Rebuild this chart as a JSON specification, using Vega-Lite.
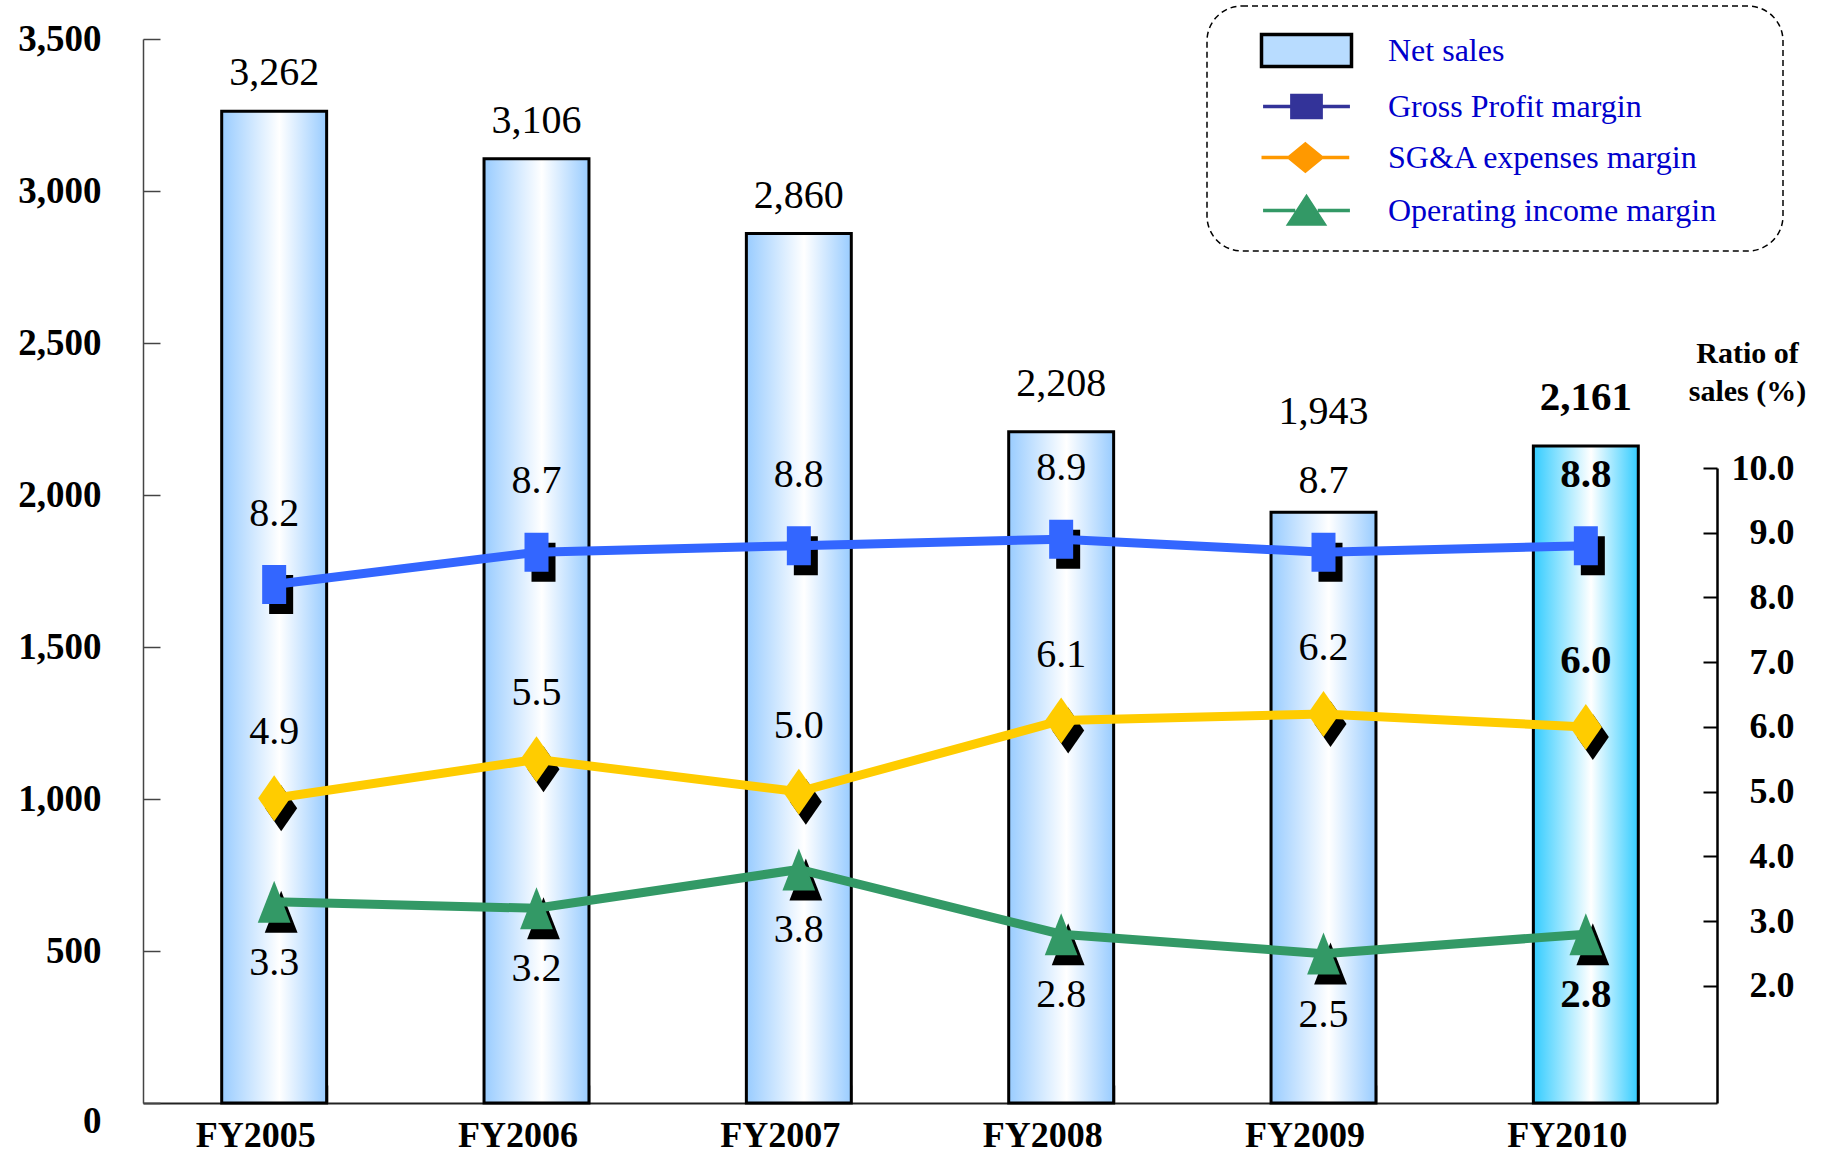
{
  "$schema": "https://vega.github.io/schema/vega-lite/v6.json",
  "width": 1574,
  "height": 1064,
  "autosize": "none",
  "padding": {"left": 143, "top": 39, "right": 108, "bottom": 50},
  "background": "white",
  "config": {
    "view": {"stroke": null},
    "font": "Liberation Serif",
    "legend": {"strokeDash": [6, 4], "strokeWidth": 1.5}
  },
  "datasets": {
    "sales": [
      {"year": "FY2005", "sales": 3262},
      {"year": "FY2006", "sales": 3106},
      {"year": "FY2007", "sales": 2860},
      {"year": "FY2008", "sales": 2208},
      {"year": "FY2009", "sales": 1943},
      {"year": "FY2010", "sales": 2161}
    ],
    "margins": [
      {"year": "FY2005", "series": "Gross Profit margin", "value": 8.2},
      {"year": "FY2006", "series": "Gross Profit margin", "value": 8.7},
      {"year": "FY2007", "series": "Gross Profit margin", "value": 8.8},
      {"year": "FY2008", "series": "Gross Profit margin", "value": 8.9},
      {"year": "FY2009", "series": "Gross Profit margin", "value": 8.7},
      {"year": "FY2010", "series": "Gross Profit margin", "value": 8.8},
      {"year": "FY2005", "series": "SG&A expenses margin", "value": 4.9},
      {"year": "FY2006", "series": "SG&A expenses margin", "value": 5.5},
      {"year": "FY2007", "series": "SG&A expenses margin", "value": 5.0},
      {"year": "FY2008", "series": "SG&A expenses margin", "value": 6.1},
      {"year": "FY2009", "series": "SG&A expenses margin", "value": 6.2},
      {"year": "FY2010", "series": "SG&A expenses margin", "value": 6.0},
      {"year": "FY2005", "series": "Operating income margin", "value": 3.3},
      {"year": "FY2006", "series": "Operating income margin", "value": 3.2},
      {"year": "FY2007", "series": "Operating income margin", "value": 3.8},
      {"year": "FY2008", "series": "Operating income margin", "value": 2.8},
      {"year": "FY2009", "series": "Operating income margin", "value": 2.5},
      {"year": "FY2010", "series": "Operating income margin", "value": 2.8}
    ]
  },
  "layer": [
    {
      "data": {"name": "sales"},
      "encoding": {
        "x": {
          "field": "year", "type": "nominal", "title": null,
          "scale": {"paddingInner": 0.6, "paddingOuter": 0.3},
          "axis": {
            "orient": "bottom", "tickBand": "extent", "tickSize": -18, "tickColor": "#333333", "tickWidth": 1.5,
            "domainColor": "#222222", "domainWidth": 2,
            "labelFont": "Liberation Serif", "labelFontSize": 36, "labelFontWeight": "bold", "labelColor": "black",
            "labelAngle": 0, "labelPadding": 50, "labelBaseline": "middle", "labelOffset": -19, "grid": false
          }
        },
        "y": {
          "field": "sales", "type": "quantitative", "title": null,
          "scale": {"domain": [0, 3500], "nice": false},
          "axis": {
            "orient": "left", "values": [0, 500, 1000, 1500, 2000, 2500, 3000, 3500], "format": ",.0f",
            "tickSize": -17, "tickColor": "#444444", "tickWidth": 1.5, "domainColor": "#444444", "domainWidth": 1.5,
            "labelFont": "Liberation Serif", "labelFontSize": 37, "labelFontWeight": "bold", "labelColor": "black",
            "labelAlign": "right", "labelPadding": 59, "labelFlush": false, "labelOverlap": false,
            "labelBaseline": {"condition": {"test": "datum.value === 0", "value": "top"}, "value": "middle"},
            "grid": false
          }
        }
      },
      "layer": [
        {
          "transform": [{"filter": "datum.year !== 'FY2010'"}],
          "mark": {
            "type": "bar", "stroke": "black", "strokeWidth": 3,
            "fill": {"gradient": "linear", "x1": 0, "y1": 0, "x2": 1, "y2": 0,
              "stops": [{"offset": 0, "color": "#99CCFF"}, {"offset": 0.55, "color": "#FFFFFF"}, {"offset": 1, "color": "#99CCFF"}]}
          }
        },
        {
          "transform": [{"filter": "datum.year === 'FY2010'"}],
          "mark": {
            "type": "bar", "stroke": "black", "strokeWidth": 3,
            "fill": {"gradient": "linear", "x1": 0, "y1": 0, "x2": 1, "y2": 0,
              "stops": [{"offset": 0, "color": "#33CCFF"}, {"offset": 0.55, "color": "#FFFFFF"}, {"offset": 1, "color": "#33CCFF"}]}
          }
        },
        {
          "transform": [{"filter": "indexof(['FY2005', 'FY2006', 'FY2007'], datum.year) >= 0"}],
          "mark": {"type": "text", "fontSize": 40, "baseline": "middle", "dy": -38, "color": "black"},
          "encoding": {"text": {"field": "sales", "format": ","}}
        },
        {
          "transform": [{"filter": "datum.year === 'FY2008'"}],
          "mark": {"type": "text", "fontSize": 40, "baseline": "middle", "dy": -48, "color": "black"},
          "encoding": {"text": {"field": "sales", "format": ","}}
        },
        {
          "transform": [{"filter": "datum.year === 'FY2009'"}],
          "mark": {"type": "text", "fontSize": 40, "baseline": "middle", "dy": -100, "color": "black"},
          "encoding": {"text": {"field": "sales", "format": ","}}
        },
        {
          "transform": [{"filter": "datum.year === 'FY2010'"}],
          "mark": {"type": "text", "fontSize": 41, "fontWeight": "bold", "baseline": "middle", "dy": -48, "color": "black"},
          "encoding": {"text": {"field": "sales", "format": ","}}
        }
      ]
    },
    {
      "data": {"name": "margins"},
      "encoding": {
        "x": {"field": "year", "type": "nominal", "title": null},
        "y": {
          "field": "value", "type": "quantitative", "title": ["Ratio of", "sales (%)"],
          "scale": {"domain": [0.193, 10], "range": [1064, 429], "zero": false, "nice": false},
          "axis": {
            "orient": "right", "values": [2, 3, 4, 5, 6, 7, 8, 9, 10], "format": ".1f",
            "tickSize": -14, "tickColor": "black", "tickWidth": 2, "domainColor": "black", "domainWidth": 2.5,
            "labelFont": "Liberation Serif", "labelFontSize": 36, "labelFontWeight": "bold", "labelColor": "black",
            "labelAlign": "right", "labelBaseline": "middle", "labelPadding": 91, "labelFlush": false, "labelOverlap": false,
            "grid": false,
            "titleAngle": 0, "titleX": 30, "titleY": 323, "titleAlign": "center", "titleBaseline": "alphabetic",
            "titleFont": "Liberation Serif", "titleFontSize": 30, "titleFontWeight": "bold", "titleColor": "black", "titleLineHeight": 38
          }
        }
      },
      "layer": [
        {
          "transform": [{"filter": "datum.series === 'Gross Profit margin'"}],
          "mark": {"type": "point", "filled": true, "opacity": 1, "size": 1600, "xOffset": 7, "yOffset": 10, "color": "black",
            "shape": "M-0.6,-0.975H0.6V0.975H-0.6Z"}
        },
        {
          "transform": [{"filter": "datum.series === 'SG&A expenses margin'"}],
          "mark": {"type": "point", "filled": true, "opacity": 1, "size": 1600, "xOffset": 7, "yOffset": 10, "color": "black",
            "shape": "M0,-1.15L0.8,0L0,1.15L-0.8,0Z"}
        },
        {
          "transform": [{"filter": "datum.series === 'Operating income margin'"}],
          "mark": {"type": "point", "filled": true, "opacity": 1, "size": 1600, "xOffset": 7, "yOffset": 10, "color": "black",
            "shape": "M0,-1.05L0.82,1.05H-0.82Z"}
        },
        {
          "mark": {"type": "line", "strokeWidth": 9},
          "encoding": {
            "color": {
              "field": "series", "type": "nominal", "legend": null,
              "scale": {
                "domain": ["Gross Profit margin", "SG&A expenses margin", "Operating income margin"],
                "range": ["#3366FF", "#FFCC00", "#339966"]
              }
            }
          }
        },
        {
          "transform": [{"filter": "datum.series === 'Gross Profit margin'"}],
          "mark": {"type": "point", "filled": true, "opacity": 1, "size": 1600, "color": "#3366FF",
            "shape": "M-0.6,-0.975H0.6V0.975H-0.6Z"}
        },
        {
          "transform": [{"filter": "datum.series === 'SG&A expenses margin'"}],
          "mark": {"type": "point", "filled": true, "opacity": 1, "size": 1600, "color": "#FFCC00",
            "shape": "M0,-1.15L0.8,0L0,1.15L-0.8,0Z"}
        },
        {
          "transform": [{"filter": "datum.series === 'Operating income margin'"}],
          "mark": {"type": "point", "filled": true, "opacity": 1, "size": 1600, "color": "#339966",
            "shape": "M0,-1.05L0.82,1.05H-0.82Z"}
        },
        {
          "mark": {"type": "point", "size": 0, "strokeWidth": 3.5},
          "encoding": {
            "fill": {
              "field": "series", "type": "nominal",
              "scale": {
                "domain": ["Net sales", "Gross Profit margin", "SG&A expenses margin", "Operating income margin"],
                "range": ["#B8DCFF", "#333399", "#FF9900", "#339966"]
              },
              "legend": {
                "orient": "none", "legendX": 1064, "legendY": -33, "title": null,
                "padding": 20, "strokeColor": "black", "cornerRadius": 35, "fillColor": "white",
                "symbolSize": 2025, "symbolOffset": 55, "labelOffset": 57, "rowPadding": 8,
                "symbolStrokeWidth": 3.5, "symbolOpacity": 1,
                "labelFont": "Liberation Serif", "labelFontSize": 32, "labelColor": "#0000CC", "labelLimit": 0,
                "labelExpr": "datum.label + '\u2800\u2800'"
              }
            },
            "stroke": {
              "field": "series", "type": "nominal",
              "scale": {
                "domain": ["Net sales", "Gross Profit margin", "SG&A expenses margin", "Operating income margin"],
                "range": ["#000000", "#333399", "#FF9900", "#339966"]
              },
              "legend": {
                "orient": "none", "legendX": 1064, "legendY": -33, "title": null,
                "padding": 20, "strokeColor": "black", "cornerRadius": 35, "fillColor": "white",
                "symbolSize": 2025, "symbolOffset": 55, "labelOffset": 57, "rowPadding": 8,
                "symbolStrokeWidth": 3.5, "symbolOpacity": 1,
                "labelFont": "Liberation Serif", "labelFontSize": 32, "labelColor": "#0000CC", "labelLimit": 0,
                "labelExpr": "datum.label + '\u2800\u2800'"
              }
            },
            "shape": {
              "field": "series", "type": "nominal",
              "scale": {
                "domain": ["Net sales", "Gross Profit margin", "SG&A expenses margin", "Operating income margin"],
                "range": [
                  "M-2,-0.71H2V0.71H-2Z",
                  "M-1.93,0H-0.65M0.65,0H1.93M-0.65,-0.49H0.65V0.49H-0.65Z",
                  "M-2,0H-0.78M0.68,0H1.9M-0.05,-0.6L0.68,0L-0.05,0.6L-0.78,0Z",
                  "M-1.93,0H-0.5M0.5,0H1.93M0,-0.6L0.78,0.6H-0.78Z"
                ]
              },
              "legend": {
                "orient": "none", "legendX": 1064, "legendY": -33, "title": null,
                "padding": 20, "strokeColor": "black", "cornerRadius": 35, "fillColor": "white",
                "symbolSize": 2025, "symbolOffset": 55, "labelOffset": 57, "rowPadding": 8,
                "symbolStrokeWidth": 3.5, "symbolOpacity": 1,
                "labelFont": "Liberation Serif", "labelFontSize": 32, "labelColor": "#0000CC", "labelLimit": 0,
                "labelExpr": "datum.label + '\u2800\u2800'"
              }
            }
          }
        },
        {
          "transform": [{"filter": "datum.series === 'Gross Profit margin' && datum.year !== 'FY2010'"}],
          "mark": {"type": "text", "fontSize": 40, "baseline": "middle", "dy": -71, "color": "black"},
          "encoding": {"text": {"field": "value", "format": ".1f"}}
        },
        {
          "transform": [{"filter": "datum.series === 'SG&A expenses margin' && datum.year !== 'FY2010'"}],
          "mark": {"type": "text", "fontSize": 40, "baseline": "middle", "dy": -66, "color": "black"},
          "encoding": {"text": {"field": "value", "format": ".1f"}}
        },
        {
          "transform": [{"filter": "datum.series === 'Operating income margin' && datum.year !== 'FY2010'"}],
          "mark": {"type": "text", "fontSize": 40, "baseline": "middle", "dy": 61, "color": "black"},
          "encoding": {"text": {"field": "value", "format": ".1f"}}
        },
        {
          "transform": [{"filter": "datum.series === 'Gross Profit margin' && datum.year === 'FY2010'"}],
          "mark": {"type": "text", "fontSize": 41, "fontWeight": "bold", "baseline": "middle", "dy": -71, "color": "black"},
          "encoding": {"text": {"field": "value", "format": ".1f"}}
        },
        {
          "transform": [{"filter": "datum.series === 'SG&A expenses margin' && datum.year === 'FY2010'"}],
          "mark": {"type": "text", "fontSize": 41, "fontWeight": "bold", "baseline": "middle", "dy": -66, "color": "black"},
          "encoding": {"text": {"field": "value", "format": ".1f"}}
        },
        {
          "transform": [{"filter": "datum.series === 'Operating income margin' && datum.year === 'FY2010'"}],
          "mark": {"type": "text", "fontSize": 41, "fontWeight": "bold", "baseline": "middle", "dy": 61, "color": "black"},
          "encoding": {"text": {"field": "value", "format": ".1f"}}
        }
      ]
    }
  ],
  "resolve": {"scale": {"y": "independent"}}
}
